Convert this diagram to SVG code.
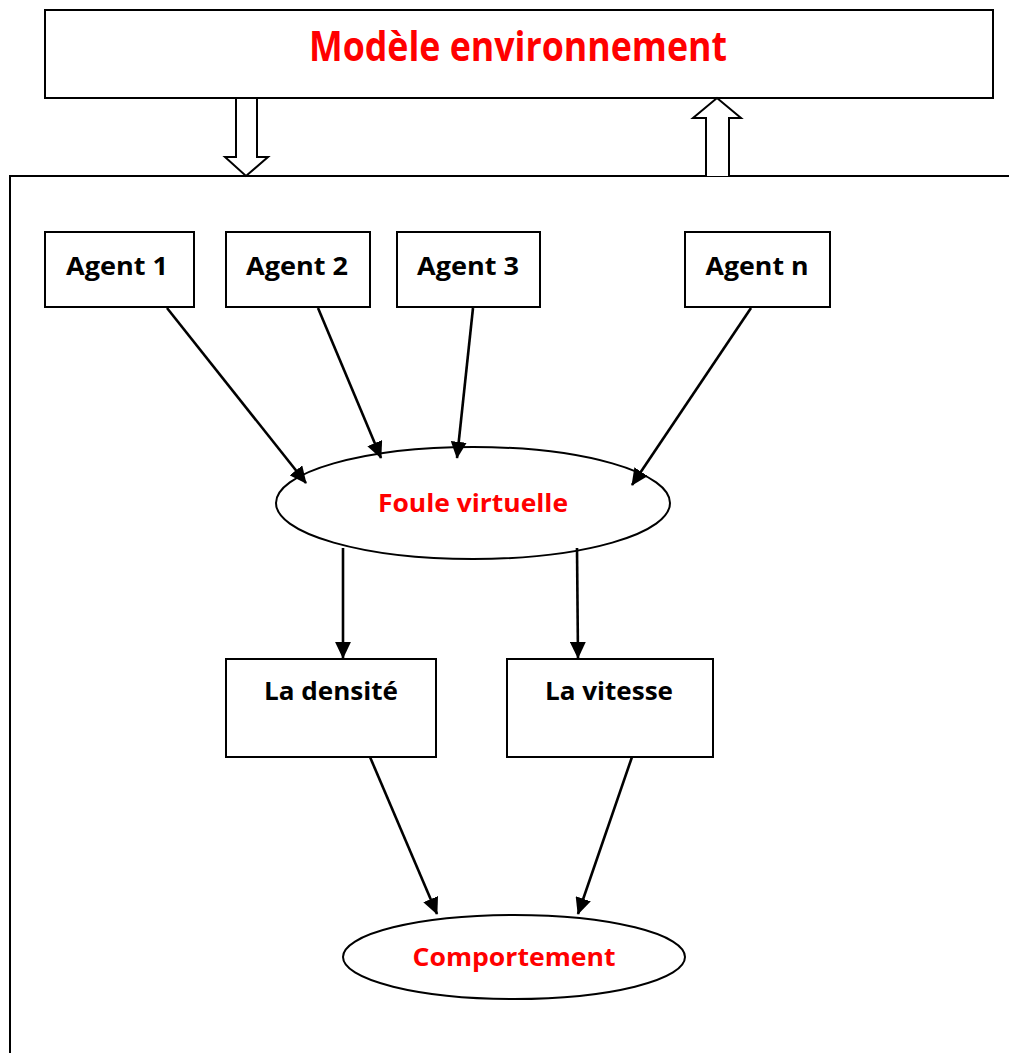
<svg xmlns="http://www.w3.org/2000/svg" width="1009" height="1053" viewBox="0 0 1009 1053">
<style>
.box{fill:#fff;stroke:#000;stroke-width:2}
.lbl{font-family:"Open Sans","Noto Sans","Liberation Sans",sans-serif;font-weight:bold;font-size:25px;fill:#000;text-anchor:middle}
.red{fill:#f00}
.con{stroke:#000;stroke-width:2.6;fill:none;marker-end:url(#ah)}
.hollow{fill:#fff;stroke:#000;stroke-width:2;stroke-linejoin:miter}
</style>
<defs>
<marker id="ah" viewBox="0 0 10 10" refX="9.5" refY="5" markerWidth="17" markerHeight="16" markerUnits="userSpaceOnUse" orient="auto" preserveAspectRatio="none">
<path d="M0,0 L10,5 L0,10 z" fill="#000"/>
</marker>
</defs>
<rect width="1009" height="1053" fill="#fff"/>
<g id="systeme">
<rect class="box" x="10" y="176" width="1100" height="1000"/>
</g>
<g id="env">
<rect class="box" x="45" y="10" width="948" height="88"/>
<text class="lbl red" x="518" y="61" textLength="418" lengthAdjust="spacingAndGlyphs" style="font-size:42px">Modèle environnement</text>
</g>
<g id="agent1"><rect class="box" x="45" y="232" width="149" height="75"/><text class="lbl" x="117" y="275" textLength="102" lengthAdjust="spacingAndGlyphs">Agent 1</text></g>
<g id="agent2"><rect class="box" x="226" y="232" width="144" height="75"/><text class="lbl" x="297" y="275" textLength="102" lengthAdjust="spacingAndGlyphs">Agent 2</text></g>
<g id="agent3"><rect class="box" x="397" y="232" width="143" height="75"/><text class="lbl" x="468" y="275" textLength="102" lengthAdjust="spacingAndGlyphs">Agent 3</text></g>
<g id="agentn"><rect class="box" x="685" y="232" width="145" height="75"/><text class="lbl" x="757" y="275" textLength="103" lengthAdjust="spacingAndGlyphs">Agent n</text></g>
<g id="foule"><ellipse class="box" cx="473" cy="503" rx="197" ry="56"/><text class="lbl red" x="473" y="512" textLength="190" lengthAdjust="spacingAndGlyphs">Foule virtuelle</text></g>
<g id="densite"><rect class="box" x="226" y="659" width="210" height="98"/><text class="lbl" x="331" y="700" textLength="134" lengthAdjust="spacingAndGlyphs">La densité</text></g>
<g id="vitesse"><rect class="box" x="507" y="659" width="206" height="98"/><text class="lbl" x="609" y="700" textLength="128" lengthAdjust="spacingAndGlyphs">La vitesse</text></g>
<g id="comportement"><ellipse class="box" cx="514" cy="957" rx="171" ry="42"/><text class="lbl red" x="514" y="966" textLength="203" lengthAdjust="spacingAndGlyphs">Comportement</text></g>
<g id="connectors">
<path class="hollow" d="M236,98 L257,98 L257,157 L268,157 L246,176 L225,157 L236,157 z"/>
<path class="hollow" d="M706,176 L706,118 L693,118 L717,98 L741,118 L729,118 L729,176"/>
<line class="con" x1="167" y1="308" x2="306" y2="483"/>
<line class="con" x1="318" y1="308" x2="381" y2="458"/>
<line class="con" x1="473" y1="308" x2="457" y2="458"/>
<line class="con" x1="751" y1="308" x2="632" y2="485"/>
<line class="con" x1="343" y1="548" x2="343" y2="658"/>
<line class="con" x1="577" y1="548" x2="578" y2="658"/>
<line class="con" x1="370" y1="757" x2="437" y2="914"/>
<line class="con" x1="632" y1="757" x2="578" y2="914"/>
</g>
</svg>
